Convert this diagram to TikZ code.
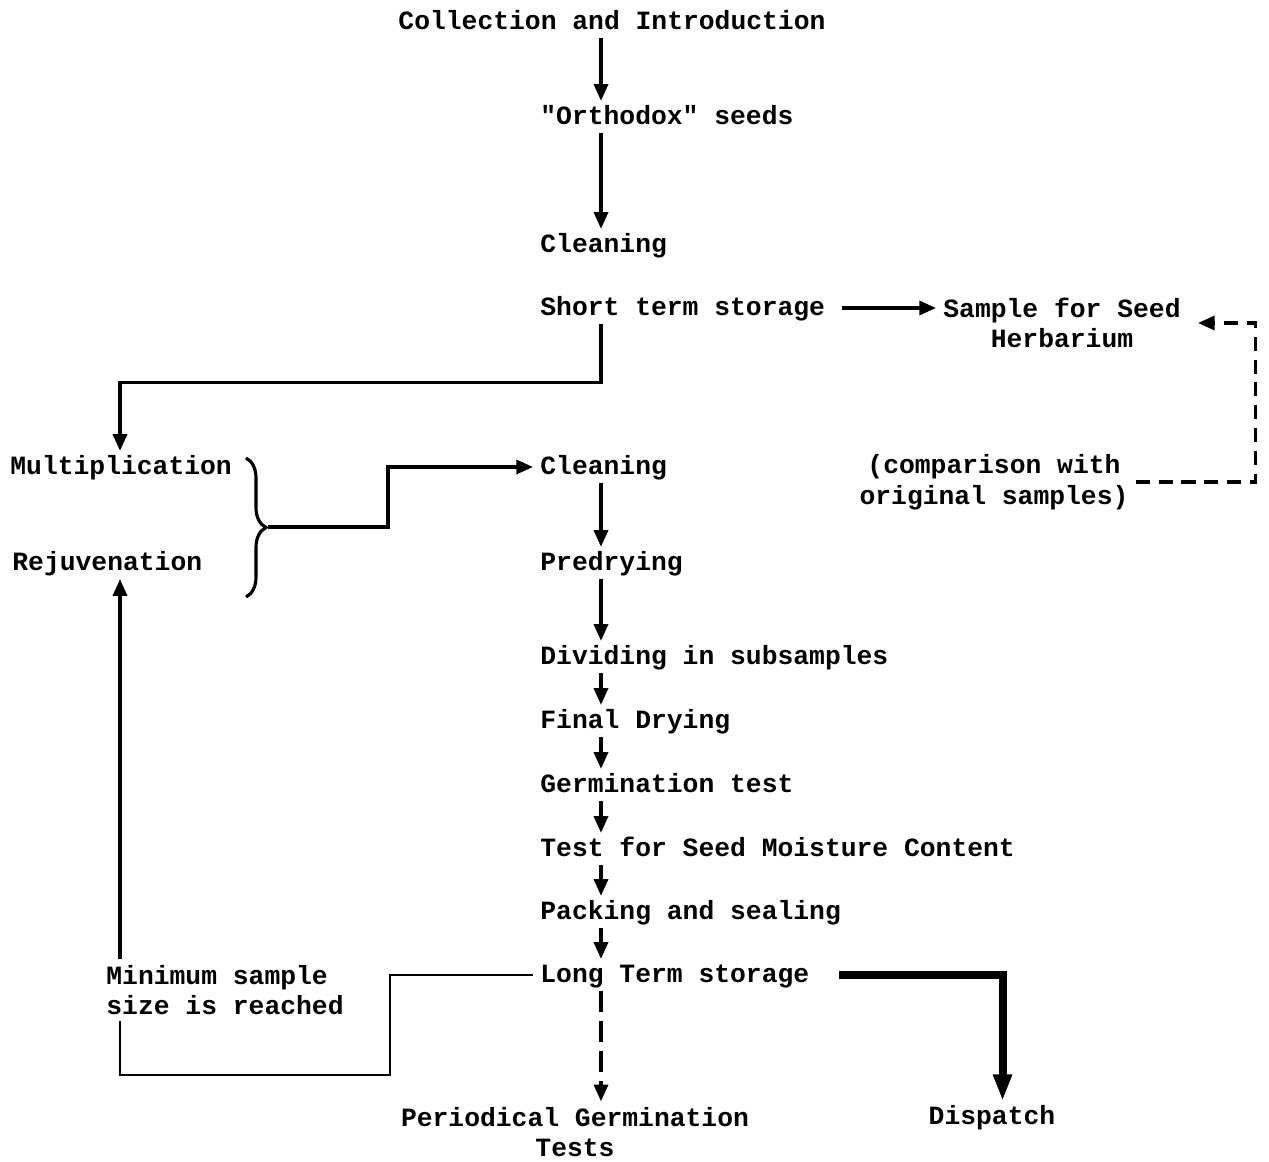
\documentclass[tikz,border=0pt]{standalone}
\usepackage{fontspec}
\setmonofont{Liberation Mono}
\usetikzlibrary{arrows.meta,decorations.pathreplacing}
\tikzset{
  stage/.style={font=\ttfamily\bfseries\fontsize{15}{17.5}\selectfont,inner xsep=4pt,inner ysep=3pt,text height=10pt,text depth=2pt,anchor=west},
  stagetwo/.style={font=\ttfamily\bfseries\fontsize{15}{17.5}\selectfont,inner xsep=4pt,inner ysep=3pt,align=center},
  flow/.style={-{Triangle[length=9.5pt,width=8pt]},line width=1.8pt},
  link/.style={line width=1.6pt},
  backflow/.style={flow,dash pattern=on 8pt off 5pt},
  testflow/.style={flow,dash pattern=on 12pt off 5pt},
  heavy/.style={-{Triangle[length=15pt,width=10pt]},line width=4.5pt},
  clasp/.style={decorate,decoration={brace,amplitude=4mm},line width=1.8pt}
}
\begin{document}
\begin{tikzpicture}[x=0.02cm,y=-0.02cm]
  \useasboundingbox (0,0) rectangle (1269,1162);
  \coordinate (spine) at (601,0);
  \coordinate (minleg) at (120,0);
  \node[stage,anchor=center] (coll) at (612,22) {Collection and Introduction};
  \node[stage] (orth) at (533,117) {"Orthodox" seeds};
  \node[stage] (cln) at (533,245) {Cleaning};
  \node[stage] (sts) at (533,308) {Short term storage};
  \node[stagetwo] (herb) at (1062,323) {Sample for Seed\\Herbarium};
  \node[stage] (mult) at (3,467) {Multiplication};
  \node[stage] (rejuv) at (5,563) {Rejuvenation};
  \node[stage] (cln2) at (533,467) {Cleaning};
  \node[stagetwo] (cmp) at (994,482) {(comparison with\\original samples)};
  \node[stage] (pre) at (533,563) {Predrying};
  \node[stage] (div) at (533,657) {Dividing in subsamples};
  \node[stage] (fin) at (533,721) {Final Drying};
  \node[stage] (germ) at (533,785) {Germination test};
  \node[stage] (moist) at (533,849) {Test for Seed Moisture Content};
  \node[stage] (pack) at (533,912) {Packing and sealing};
  \node[stage] (lts) at (533,975) {Long Term storage};
  \node[stagetwo,align=left] (minsz) at (225,990) {Minimum sample\\size is reached};
  \node[stagetwo] (per) at (575,1132) {Periodical Germination\\Tests};
  \node[stage,anchor=center] (disp) at (992,1117) {Dispatch};

  \draw[flow] (spine |- coll.south) -- (spine |- orth.north);
  \draw[flow] (spine |- orth.south) -- (spine |- cln.north);
  \draw[flow,shorten <=2mm] (sts.east) -- (sts.east -| herb.west);
  \draw[flow] (spine |- sts.south) -- ++(0,58) -| (minleg |- mult.north);
  \draw[backflow,shorten >=2mm] (cmp.east) -- ++(120,0) |- (herb.east);

  \draw[clasp] (246,458) -- (246,597);
  \coordinate (brtip) at (268,527);
  \draw[flow] (brtip) -- ++(120,0) |- (cln2.west);

  \foreach \a/\b in {cln2/pre,pre/div,div/fin,fin/germ,germ/moist,moist/pack,pack/lts}
    \draw[flow] (spine |- \a.south) -- (spine |- \b.north);

  \draw[testflow] (spine |- lts.south) -- (spine |- per.north);
  \draw[heavy,shorten <=4.5mm] (lts.east) -| ([xshift=6]disp.north);
  \draw[link] (lts.west) -- ++(-143,0) -- ++(0,100) -| (minleg |- minsz.south);
  \draw[flow] (minleg |- minsz.north) -- (minleg |- rejuv.south);
\end{tikzpicture}
\end{document}
